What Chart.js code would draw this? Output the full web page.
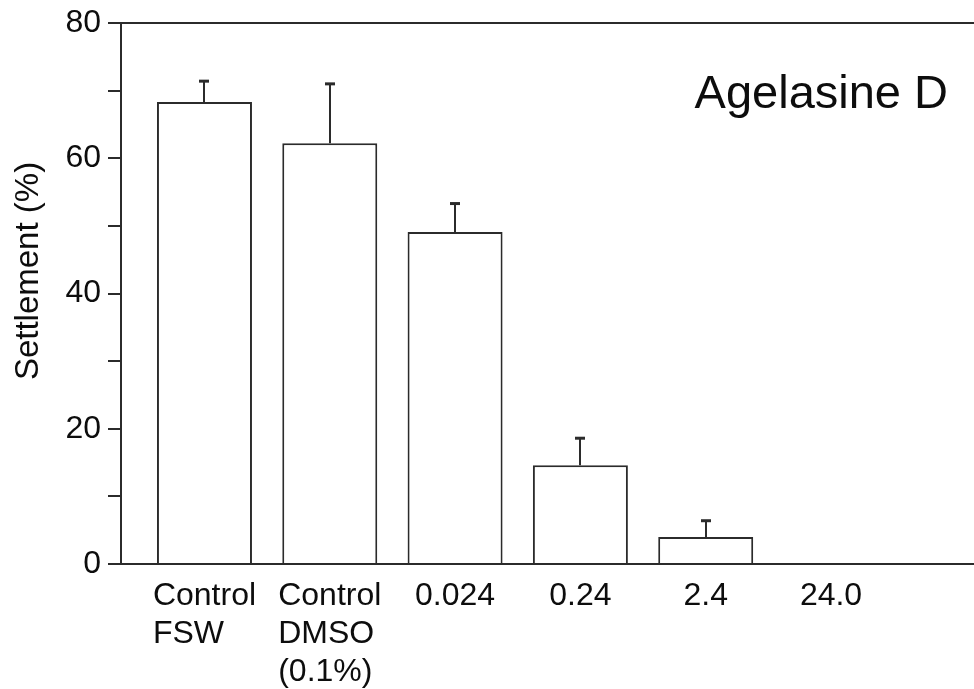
<!DOCTYPE html>
<html>
<head>
<meta charset="utf-8">
<title>Agelasine D settlement</title>
<script src="https://cdn.jsdelivr.net/npm/chart.js@4/dist/chart.umd.min.js"></script>
<style>
  html, body { margin: 0; padding: 0; background: #fff; }
  #wrap { width: 974px; height: 689px; position: relative; }
</style>
</head>
<body>
<div id="wrap"><canvas id="settlementChart"></canvas></div>
<script>
// Settlement (%) per treatment, mean with upward error bar
const categories = [['Control', 'FSW'], ['Control', 'DMSO', '(0.1%)'], ['0.024'], ['0.24'], ['2.4'], ['24.0']];
const settlement = [68.3, 62.2, 49.1, 14.6, 4.0, 0];
const errors = [3.1, 8.8, 4.2, 4.0, 2.4, 0];
const yMax = 80;
const yStep = 10;
const yLabelStep = 20;
const yTitle = 'Settlement (%)';
const chartLabel = 'Agelasine D';

const FONT = '"Liberation Sans", Arial, Helvetica, sans-serif';
const INK = '#2b2b2b';
const TEXT = '#0d0d0d';

const annotations = {
    id: 'annotations',
    afterDatasetsDraw(chart) {
        const { ctx, chartArea, scales: { x, y } } = chart;
        ctx.save();

        // top frame line at 80
        ctx.strokeStyle = INK;
        ctx.lineWidth = 2;
        ctx.beginPath();
        ctx.moveTo(chartArea.left, chartArea.top);
        ctx.lineTo(chartArea.right, chartArea.top);
        ctx.stroke();

        // error bars (upper only)
        settlement.forEach((v, i) => {
            if (!errors[i]) return;
            const px = Math.round(x.getPixelForValue(i));
            const yBar = y.getPixelForValue(v);
            const yErr = y.getPixelForValue(v + errors[i]);
            ctx.lineWidth = 2;
            ctx.beginPath();
            ctx.moveTo(px, yBar);
            ctx.lineTo(px, yErr);
            ctx.stroke();
            ctx.lineWidth = 3;
            ctx.beginPath();
            ctx.moveTo(px - 5, yErr);
            ctx.lineTo(px + 5, yErr);
            ctx.stroke();
        });

        // category labels: block centred under bar, lines left aligned
        ctx.fillStyle = TEXT;
        ctx.font = '32px ' + FONT;
        ctx.textAlign = 'left';
        ctx.textBaseline = 'alphabetic';
        categories.forEach((lines, i) => {
            const px = x.getPixelForValue(i);
            const w = Math.max(...lines.map(l => ctx.measureText(l).width));
            lines.forEach((l, j) => {
                ctx.fillText(l, px - w / 2, x.top + 41 + j * 38);
            });
        });

        // y axis title
        ctx.save();
        ctx.translate(29, 271);
        ctx.rotate(-Math.PI / 2);
        ctx.textAlign = 'center';
        ctx.textBaseline = 'middle';
        ctx.font = '33px ' + FONT;
        ctx.fillText(yTitle, 0, 0);
        ctx.restore();

        // compound label
        ctx.font = '47px ' + FONT;
        ctx.textAlign = 'right';
        ctx.fillText(chartLabel, chartArea.right - 26, 108);

        ctx.restore();
    }
};

Chart.defaults.font.family = FONT;

const ctx = document.getElementById('settlementChart').getContext('2d');
const chart = new Chart(ctx, {
    type: 'bar',
    data: {
        datasets: [{
            label: yTitle,
            data: settlement.map((v, i) => ({ x: i, y: v })),
            backgroundColor: '#ffffff',
            borderColor: INK,
            borderWidth: 2,
            barPercentage: 0.758,
            categoryPercentage: 1
        }]
    },
    options: {
        responsive: true,
        maintainAspectRatio: false,
        animation: false,
        layout: { padding: { top: 23, right: 0, bottom: 0, left: 0 } },
        plugins: {
            legend: { display: false },
            tooltip: { enabled: false }
        },
        scales: {
            x: {
                type: 'linear',
                offset: false,
                min: -0.666,
                max: 6.141,
                afterBuildTicks: axis => {
                    axis.ticks = categories.map((c, i) => ({ value: i }));
                },
                afterFit: axis => {
                    axis.height = 125;
                    axis.paddingLeft = 0;
                    axis.paddingRight = 0;
                },
                grid: { display: false },
                ticks: { display: false },
                border: { display: true, color: INK, width: 2 }
            },
            y: {
                min: 0,
                max: yMax,
                afterFit: axis => {
                    axis.width = 121;
                    axis.paddingTop = 0;
                    axis.paddingBottom = 0;
                },
                ticks: {
                    stepSize: yStep,
                    padding: 7,
                    color: TEXT,
                    font: { size: 32 },
                    callback: v => (v % yLabelStep === 0 ? v : '')
                },
                grid: {
                    drawOnChartArea: false,
                    drawTicks: true,
                    tickLength: 13,
                    color: INK,
                    lineWidth: 2
                },
                border: { display: true, color: INK, width: 2 }
            }
        }
    },
    plugins: [annotations]
});
</script>
</body>
</html>
